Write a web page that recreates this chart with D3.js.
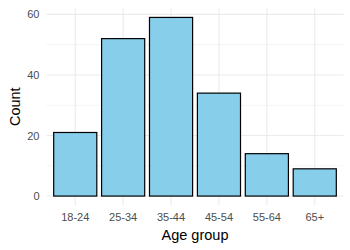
<!DOCTYPE html>
<html>
<head>
<meta charset="utf-8">
<script src="https://cdn.jsdelivr.net/npm/d3@7"></script>
<style>
  body { margin: 0; background: #fff; }
  text { font-family: "Liberation Sans", Arial, sans-serif; }
</style>
</head>
<body>
<svg width="350" height="250"></svg>
<script>
// data
var ageGroups = ["18-24", "25-34", "35-44", "45-54", "55-64", "65+"];
var counts = [21, 52, 59, 34, 14, 9];
var yTicks = [0, 20, 40, 60];
var yMinor = [10, 30, 50];

var svg = d3.select("svg"),
    panel = {left: 46.5, right: 343.5, top: 8.5, bottom: 205};

// ggplot-like expansion
var maxC = d3.max(counts);
var y = d3.scaleLinear()
    .domain([-0.05 * maxC, maxC * 1.05])
    .range([panel.bottom, panel.top]);

var step = (panel.right - panel.left) / (ageGroups.length - 1 + 1.2);
var x = d3.scaleBand()
    .domain(ageGroups)
    .range([panel.left + 0.6 * step - step / 2, panel.right - 0.6 * step + step / 2])
    .paddingInner(0.1)
    .paddingOuter(0.05);

var g = svg.append("g");

// minor grid
g.selectAll(".minor").data(yMinor).enter().append("line")
    .attr("x1", panel.left).attr("x2", panel.right)
    .attr("y1", function(d) { return y(d); }).attr("y2", function(d) { return y(d); })
    .attr("stroke", "#ebebeb").attr("stroke-width", 0.55);

// major grid
g.selectAll(".hmaj").data(yTicks).enter().append("line")
    .attr("x1", panel.left).attr("x2", panel.right)
    .attr("y1", function(d) { return y(d); }).attr("y2", function(d) { return y(d); })
    .attr("stroke", "#ebebeb").attr("stroke-width", 1.1);

g.selectAll(".vmaj").data(ageGroups).enter().append("line")
    .attr("x1", function(d) { return x(d) + x.bandwidth() / 2; })
    .attr("x2", function(d) { return x(d) + x.bandwidth() / 2; })
    .attr("y1", panel.top).attr("y2", panel.bottom)
    .attr("stroke", "#ebebeb").attr("stroke-width", 1.1);

// bars
g.selectAll(".bar").data(counts).enter().append("rect")
    .attr("x", function(d, i) { return x(ageGroups[i]); })
    .attr("width", x.bandwidth())
    .attr("y", function(d) { return y(d); })
    .attr("height", function(d) { return y(0) - y(d); })
    .attr("fill", "#87ceeb")
    .attr("stroke", "#000")
    .attr("stroke-width", 1.2);

// y tick labels
g.selectAll(".ylab").data(yTicks).enter().append("text")
    .attr("x", 39.5)
    .attr("y", function(d) { return y(d) + 4; })
    .attr("text-anchor", "end")
    .attr("font-size", "11px")
    .attr("fill", "#4d4d4d")
    .text(function(d) { return d; });

// x tick labels
g.selectAll(".xlab").data(ageGroups).enter().append("text")
    .attr("x", function(d) { return x(d) + x.bandwidth() / 2; })
    .attr("y", 221)
    .attr("text-anchor", "middle")
    .attr("font-size", "11px")
    .attr("fill", "#4d4d4d")
    .text(function(d) { return d; });

// axis titles
svg.append("text")
    .attr("x", (panel.left + panel.right) / 2)
    .attr("y", 239.5)
    .attr("text-anchor", "middle")
    .attr("font-size", "14.5px")
    .attr("fill", "#000")
    .text("Age group");

svg.append("text")
    .attr("transform", "translate(19.5," + (panel.top + panel.bottom) / 2 + ") rotate(-90)")
    .attr("text-anchor", "middle")
    .attr("font-size", "14.5px")
    .attr("fill", "#000")
    .text("Count");
</script>
</body>
</html>
